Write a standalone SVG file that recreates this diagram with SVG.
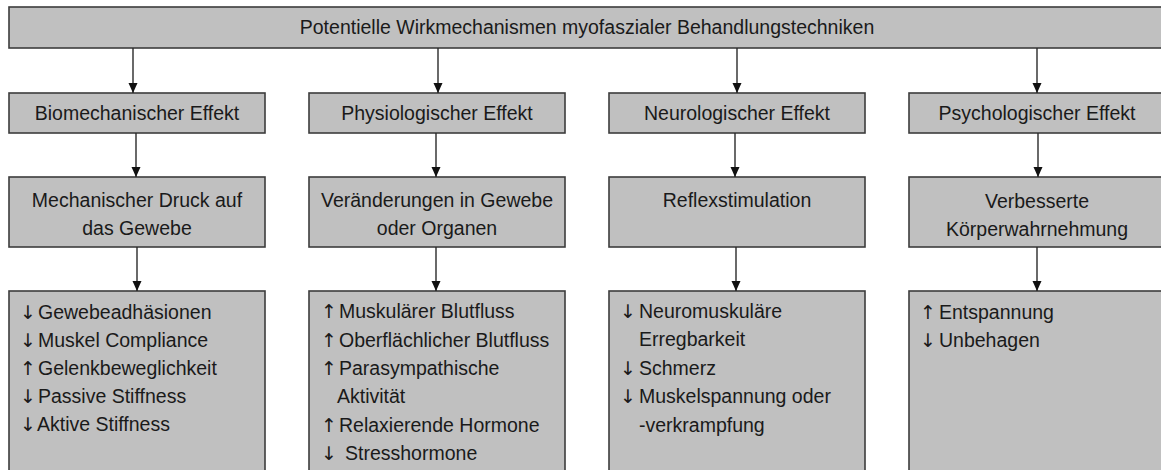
<svg xmlns="http://www.w3.org/2000/svg" width="1161" height="470" viewBox="0 0 1161 470">
<defs>
<style>
.box{fill:#c0c0c0;stroke:#3c3c3c;stroke-width:1.6}
text{font-family:"Liberation Sans",Arial,sans-serif;font-size:19.5px;fill:#1a1a1a}
.ar{font-family:"DejaVu Sans",sans-serif;font-size:19px;fill:#1a1a1a}
.c{text-anchor:middle}
.con{stroke:#2a2a2a;stroke-width:1.4;fill:none;marker-end:url(#ah)}
</style>
<marker id="ah" viewBox="0 0 10 10" refX="10" refY="5" markerWidth="10" markerHeight="10" markerUnits="userSpaceOnUse" orient="auto">
<path d="M0,0.5 L10,5 L0,9.5 Z" fill="#111"/>
</marker>
</defs>
<rect width="1161" height="470" fill="#ffffff"/>

<g id="title">
<rect class="box" x="9" y="7" width="1170" height="41"/>
<text class="c" x="587" y="34">Potentielle Wirkmechanismen myofaszialer Behandlungstechniken</text>
</g>

<g id="biomech">
<rect class="box" x="9" y="93" width="256" height="40"/>
<text class="c" x="137" y="120">Biomechanischer Effekt</text>
</g>
<g id="physio">
<rect class="box" x="309" y="93" width="256" height="40"/>
<text class="c" x="437" y="120">Physiologischer Effekt</text>
</g>
<g id="neuro">
<rect class="box" x="609" y="93" width="256" height="40"/>
<text class="c" x="737" y="120">Neurologischer Effekt</text>
</g>
<g id="psycho">
<rect class="box" x="909" y="93" width="270" height="40"/>
<text class="c" x="1037" y="120">Psychologischer Effekt</text>
</g>

<g id="druck">
<rect class="box" x="9" y="177" width="256" height="70"/>
<text class="c" x="137" y="207">Mechanischer Druck auf</text>
<text class="c" x="137" y="235">das Gewebe</text>
</g>
<g id="veraenderungen">
<rect class="box" x="309" y="177" width="256" height="70"/>
<text class="c" x="437" y="207">Veränderungen in Gewebe</text>
<text class="c" x="437" y="235">oder Organen</text>
</g>
<g id="reflex">
<rect class="box" x="609" y="177" width="256" height="70"/>
<text class="c" x="737" y="207">Reflexstimulation</text>
</g>
<g id="koerper">
<rect class="box" x="909" y="177" width="270" height="70"/>
<text class="c" x="1037" y="208">Verbesserte</text>
<text class="c" x="1037" y="236">Körperwahrnehmung</text>
</g>

<g id="bio-effects">
<rect class="box" x="9" y="291" width="256" height="190"/>
<text y="319"><tspan class="ar" x="20">↓</tspan><tspan x="38">Gewebeadhäsionen</tspan></text>
<text y="347"><tspan class="ar" x="20">↓</tspan><tspan x="38">Muskel Compliance</tspan></text>
<text y="375"><tspan class="ar" x="20">↑</tspan><tspan x="38">Gelenkbeweglichkeit</tspan></text>
<text y="403"><tspan class="ar" x="20">↓</tspan><tspan x="38">Passive Stiffness</tspan></text>
<text y="431"><tspan class="ar" x="20">↓</tspan><tspan x="37">Aktive Stiffness</tspan></text>
</g>
<g id="phys-effects">
<rect class="box" x="309" y="291" width="256" height="190"/>
<text y="318"><tspan class="ar" x="321">↑</tspan><tspan x="339">Muskulärer Blutfluss</tspan></text>
<text y="347"><tspan class="ar" x="321">↑</tspan><tspan x="339">Oberflächlicher Blutfluss</tspan></text>
<text y="375"><tspan class="ar" x="321">↑</tspan><tspan x="339">Parasympathische</tspan></text>
<text y="403"><tspan x="337">Aktivität</tspan></text>
<text y="432"><tspan class="ar" x="321">↑</tspan><tspan x="339">Relaxierende Hormone</tspan></text>
<text y="460"><tspan class="ar" x="321">↓</tspan><tspan x="345">Stresshormone</tspan></text>
</g>
<g id="neuro-effects">
<rect class="box" x="609" y="291" width="256" height="190"/>
<text y="318"><tspan class="ar" x="620">↓</tspan><tspan x="639">Neuromuskuläre</tspan></text>
<text y="346"><tspan x="639">Erregbarkeit</tspan></text>
<text y="375"><tspan class="ar" x="620">↓</tspan><tspan x="639">Schmerz</tspan></text>
<text y="403"><tspan class="ar" x="620">↓</tspan><tspan x="639">Muskelspannung oder</tspan></text>
<text y="432"><tspan x="639">-verkrampfung</tspan></text>
</g>
<g id="psych-effects">
<rect class="box" x="909" y="291" width="270" height="190"/>
<text y="319"><tspan class="ar" x="920">↑</tspan><tspan x="939">Entspannung</tspan></text>
<text y="347"><tspan class="ar" x="920">↓</tspan><tspan x="939">Unbehagen</tspan></text>
</g>

<g id="connectors">
<line class="con" x1="133" y1="48" x2="133" y2="93"/>
<line class="con" x1="438" y1="48" x2="438" y2="93"/>
<line class="con" x1="737" y1="48" x2="737" y2="93"/>
<line class="con" x1="1037" y1="48" x2="1037" y2="93"/>
<line class="con" x1="136" y1="133" x2="136" y2="177"/>
<line class="con" x1="436" y1="133" x2="436" y2="177"/>
<line class="con" x1="735" y1="133" x2="735" y2="177"/>
<line class="con" x1="1038" y1="133" x2="1038" y2="177"/>
<line class="con" x1="137" y1="247" x2="137" y2="291"/>
<line class="con" x1="436" y1="247" x2="436" y2="291"/>
<line class="con" x1="736" y1="247" x2="736" y2="291"/>
<line class="con" x1="1037" y1="247" x2="1037" y2="291"/>
</g>
</svg>
